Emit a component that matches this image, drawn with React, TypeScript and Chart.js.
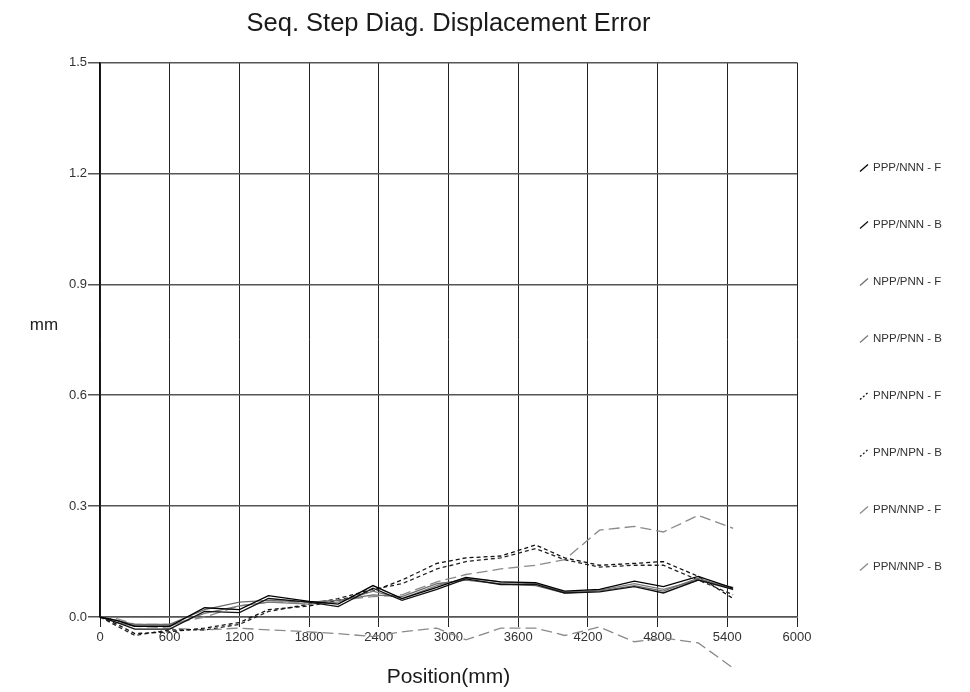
import React, { useEffect, useRef } from 'react';
import { Chart, registerables } from 'chart.js';

Chart.register(...registerables);

const positions = [0, 150, 300, 600, 900, 1200, 1450, 1800, 2050, 2350, 2600, 2900, 3150, 3450, 3750, 4000, 4300, 4600, 4850, 5150, 5450];

const pppF = [0, -0.01, -0.025, -0.025, 0.025, 0.02, 0.058, 0.042, 0.035, 0.085, 0.05, 0.08, 0.107, 0.095, 0.093, 0.07, 0.075, 0.097, 0.082, 0.11, 0.078];
const pppB = [0, -0.015, -0.033, -0.033, 0.015, 0.012, 0.05, 0.04, 0.028, 0.078, 0.045, 0.075, 0.103, 0.088, 0.088, 0.065, 0.068, 0.082, 0.065, 0.1, 0.075];
const nppF = [0, -0.01, -0.02, -0.02, 0.02, 0.04, 0.045, 0.04, 0.045, 0.06, 0.055, 0.09, 0.1, 0.09, 0.085, 0.065, 0.07, 0.085, 0.07, 0.105, 0.075];
const nppB = [0, -0.015, -0.025, -0.025, 0.01, 0.03, 0.04, 0.035, 0.04, 0.07, 0.05, 0.085, 0.105, 0.095, 0.09, 0.068, 0.072, 0.09, 0.075, 0.1, 0.08];
const pnpF = [0, -0.02, -0.045, -0.04, -0.03, -0.015, 0.02, 0.03, 0.045, 0.07, 0.1, 0.145, 0.16, 0.165, 0.195, 0.16, 0.14, 0.145, 0.15, 0.11, 0.05];
const pnpB = [0, -0.025, -0.05, -0.035, -0.035, -0.02, 0.015, 0.035, 0.05, 0.075, 0.09, 0.13, 0.15, 0.16, 0.185, 0.155, 0.135, 0.14, 0.14, 0.1, 0.06];
const ppnF = [0, -0.005, -0.02, -0.02, 0.0, 0.03, 0.04, 0.04, 0.045, 0.055, 0.06, 0.095, 0.115, 0.13, 0.14, 0.155, 0.235, 0.245, 0.23, 0.275, 0.24];
const ppnB = [0, -0.01, -0.025, -0.03, -0.035, -0.03, -0.035, -0.04, -0.045, -0.053, -0.04, -0.03, -0.062, -0.03, -0.03, -0.05, -0.027, -0.067, -0.057, -0.07, -0.138];

const seriesLabels = ['PPP/NNN - F', 'PPP/NNN - B', 'NPP/PNN - F', 'NPP/PNN - B', 'PNP/NPN - F', 'PNP/NPN - B', 'PPN/NNP - F', 'PPN/NNP - B'];
const seriesValues = [pppF, pppB, nppF, nppB, pnpF, pnpB, ppnF, ppnB];
const seriesColors = ['#000000', '#111111', '#6e6e6e', '#7a7a7a', '#111111', '#222222', '#8a8a8a', '#8a8a8a'];
const seriesDash: number[][] = [[], [], [], [], [4, 3], [4, 3], [11, 5], [11, 5]];
const legendDash: number[][] = [[], [], [], [], [2, 2], [2, 2], [], []];

const xTicks = [0, 600, 1200, 1800, 2400, 3000, 3600, 4200, 4800, 5400, 6000];
const yTicks = [0, 0.3, 0.6, 0.9, 1.2, 1.5];

const FONT = '"Liberation Sans", Arial, sans-serif';

const sideLegend = {
  id: 'sideLegend',
  afterDraw(chart: any) {
    const { ctx, chartArea } = chart;
    chart.data.datasets.forEach((ds: any, i: number) => {
      const x = chartArea.right + 63;
      const y = chartArea.top + 105 + i * 57;
      ctx.save();
      ctx.strokeStyle = ds.borderColor;
      ctx.lineWidth = 1.3;
      ctx.setLineDash(legendDash[i]);
      ctx.beginPath();
      ctx.moveTo(x, y + 4);
      ctx.lineTo(x + 8, y - 3);
      ctx.stroke();
      ctx.setLineDash([]);
      ctx.fillStyle = '#333';
      ctx.font = '11.5px ' + FONT;
      ctx.textBaseline = 'middle';
      ctx.textAlign = 'left';
      ctx.fillText(ds.label, x + 13, y);
      ctx.restore();
    });
    ctx.save();
    ctx.fillStyle = '#222';
    ctx.font = '17px ' + FONT;
    ctx.textAlign = 'center';
    ctx.textBaseline = 'middle';
    ctx.fillText('mm', chartArea.left - 56, (chartArea.top + chartArea.bottom) / 2 - 14);
    ctx.restore();
  },
};

export default function App() {
  const ref = useRef<HTMLCanvasElement | null>(null);
  useEffect(() => {
    document.body.style.margin = '0';
    const canvas = ref.current;
    if (!canvas) return;
    const chart = new Chart(canvas, {
      type: 'line',
      data: {
        datasets: seriesLabels.map((label, i) => ({
          label,
          data: positions.map((x, j) => ({ x, y: seriesValues[i][j] })),
          borderColor: seriesColors[i],
          backgroundColor: seriesColors[i],
          borderWidth: 1.3,
          borderDash: seriesDash[i],
          pointRadius: 0,
          tension: 0,
          fill: false,
          clip: false as any,
        })),
      },
      options: {
        responsive: false,
        animation: false,
        devicePixelRatio: 1,
        layout: { padding: { left: 0, right: 173, top: 0, bottom: 0 } },
        plugins: {
          legend: { display: false },
          tooltip: { enabled: false },
          title: {
            display: true,
            text: 'Seq. Step Diag. Displacement Error',
            fullSize: false,
            color: '#1a1a1a',
            font: { family: FONT, size: 25.5, weight: 'normal' },
            padding: { top: 9, bottom: 23 },
          },
        },
        scales: {
          x: {
            type: 'linear',
            min: 0,
            max: 6000,
            afterBuildTicks: (s: any) => { s.ticks = xTicks.map((v) => ({ value: v })); },
            afterFit: (s: any) => { s.height = 75; },
            ticks: {
              color: '#333',
              font: { family: FONT, size: 13 },
              padding: 3,
              maxRotation: 0,
              autoSkip: false,
              callback: (v: any) => String(v),
            },
            grid: { color: '#222', lineWidth: 1, tickLength: 10 },
            border: { color: '#555', width: 1.5 },
            title: {
              display: true,
              text: 'Position(mm)',
              color: '#1a1a1a',
              font: { family: FONT, size: 21 },
              padding: { top: 0, bottom: 2 },
            },
          },
          y: {
            type: 'linear',
            min: 0,
            max: 1.5,
            afterBuildTicks: (s: any) => { s.ticks = yTicks.map((v) => ({ value: v })); },
            afterFit: (s: any) => { s.width = 100; },
            ticks: {
              color: '#333',
              font: { family: FONT, size: 13 },
              padding: 1,
              callback: (v: any) => Number(v).toFixed(1),
            },
            grid: { color: '#555', lineWidth: 1.5, tickLength: 12 },
            border: { color: '#111', width: 1.5 },
          },
        },
      },
      plugins: [sideLegend],
    });
    return () => chart.destroy();
  }, []);
  return (
    <div style={{ width: 970, height: 692, background: '#fff' }}>
      <canvas ref={ref} width={970} height={692} style={{ display: 'block' }} />
    </div>
  );
}
